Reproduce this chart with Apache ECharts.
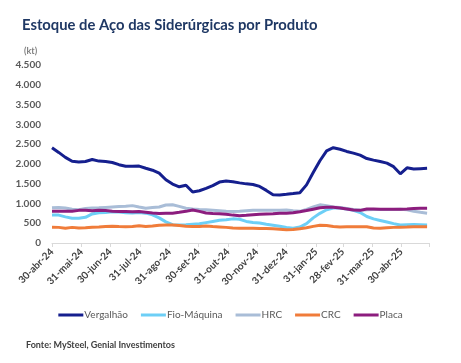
<!DOCTYPE html>
<html>
<head>
<meta charset="utf-8">
<script src="https://cdn.jsdelivr.net/npm/echarts@6/dist/echarts.min.js"></script>
<style>
html,body{margin:0;padding:0;background:#fff;}
#chart{width:461px;height:363px;}
</style>
</head>
<body>
<div id="chart"></div>
<script>
// ---- data ----
const dates = [
'2024-04-30','2024-05-07','2024-05-14','2024-05-21','2024-05-28','2024-06-04','2024-06-11','2024-06-18','2024-06-25',
'2024-07-02','2024-07-09','2024-07-16','2024-07-23','2024-07-30','2024-08-06','2024-08-13','2024-08-20','2024-08-27',
'2024-09-03','2024-09-10','2024-09-17','2024-09-24','2024-10-01','2024-10-08','2024-10-15','2024-10-22','2024-10-29',
'2024-11-05','2024-11-12','2024-11-19','2024-11-26','2024-12-03','2024-12-10','2024-12-17','2024-12-24','2024-12-31',
'2025-01-07','2025-01-14','2025-01-21','2025-01-28','2025-02-04','2025-02-11','2025-02-18','2025-02-25',
'2025-03-04','2025-03-11','2025-03-18','2025-03-25','2025-04-01','2025-04-08','2025-04-15','2025-04-22','2025-04-29',
'2025-05-06','2025-05-13','2025-05-20','2025-05-27'
];
const vergalhao = [2410,2290,2165,2065,2050,2060,2110,2070,2058,2035,1980,1940,1940,1945,1890,1840,1765,1600,1490,1420,
1460,1290,1320,1380,1450,1540,1565,1550,1520,1495,1480,1430,1330,1220,1215,1230,1250,1272,1470,1780,2080,2330,2410,2370,
2315,2272,2220,2135,2095,2060,2020,1930,1750,1900,1870,1880,1888];
const fioMaquina = [708,705,660,628,624,650,735,765,770,790,786,765,757,772,755,712,635,535,462,455,463,474,485,515,545,
575,590,610,600,545,520,505,475,450,425,390,375,405,490,635,750,840,885,885,860,825,770,670,610,570,530,490,455,462,468,462,455];
const hrc = [890,900,885,855,840,870,885,890,900,910,920,930,945,910,880,895,910,960,965,925,880,860,845,840,830,815,800,
795,800,815,826,826,826,826,828,832,815,800,850,910,965,940,910,895,870,845,830,840,845,845,845,850,855,840,805,775,755];
const crc = [400,395,375,395,380,385,400,405,415,425,415,410,420,435,415,430,450,455,455,440,425,415,420,430,415,405,395,
380,375,375,370,365,365,360,350,335,340,360,385,420,450,440,415,405,410,413,413,410,380,375,385,395,400,405,412,413,413];
const placa = [800,800,800,800,825,830,815,830,820,805,795,795,790,795,780,760,745,750,755,775,800,835,800,760,745,740,728,
705,690,700,715,728,735,740,755,755,765,790,820,855,890,905,905,885,860,835,825,860,860,855,855,855,855,858,870,876,876];
const tickDates = ['2024-04-30','2024-05-31','2024-06-30','2024-07-31','2024-08-31','2024-09-30','2024-10-31','2024-11-30',
'2024-12-31','2025-01-31','2025-02-28','2025-03-31','2025-04-30'];
const tickLabels = ['30-abr-24','31-mai-24','30-jun-24','31-jul-24','31-ago-24','30-set-24','31-out-24','30-nov-24',
'31-dez-24','31-jan-25','28-fev-25','31-mar-25','30-abr-25'];
const axisStart = '2024-04-30';
const axisEnd = '2025-05-29';
const seriesNames = ['Vergalhão','Fio-Máquina','HRC','CRC','Placa'];

// ---- helpers ----
function ts(s){const p=s.split('-').map(Number);return Date.UTC(p[0],p[1]-1,p[2])/86400000;}
const tickTs = tickDates.map(ts);
const labelMap = {};
tickTs.forEach((t,i)=>{labelMap[t]=tickLabels[i];});
const colors = ['#151F8E','#6DCFF6','#A9BDD7','#F07C3A','#8C1D7E'];
const allSeries = [vergalhao,fioMaquina,hrc,crc,placa];
const FONT = 'Lato';

const chart = echarts.init(document.getElementById('chart'), null, {renderer:'canvas'});
chart.setOption({
  animation:false,
  backgroundColor:'#fff',
  color:colors,
  title:[
    {text:'Estoque de Aço das Siderúrgicas por Produto',left:17,top:13,
     textStyle:{fontFamily:FONT,fontSize:14.8,fontWeight:'bold',color:'#1F3864'}},
    {text:'(kt)',left:19,top:42,textStyle:{fontFamily:FONT,fontSize:9,fontWeight:'bold',color:'#7F7F7F'}},
    {text:'Fonte: MySteel, Genial Investimentos',left:21,top:336,
     textStyle:{fontFamily:FONT,fontSize:9,fontWeight:'bold',color:'#404040'}}
  ],
  legend:{
    data:seriesNames,bottom:38,left:'center',icon:'rect',itemWidth:25,itemHeight:3,itemGap:13,
    textStyle:{fontFamily:FONT,fontSize:10,color:'#595959',padding:[0,0,0,-4]}
  },
  grid:{left:52,right:32,top:65,bottom:120,containLabel:false},
  xAxis:{
    type:'value',min:ts(axisStart),max:ts(axisEnd),
    axisLine:{show:true,lineStyle:{color:'#D9D9D9',width:1}},
    axisTick:{show:true,length:4,lineStyle:{color:'#D9D9D9'},customValues:tickTs.concat([ts(axisEnd)])},
    axisLabel:{customValues:tickTs,rotate:45,margin:7,fontFamily:FONT,fontSize:10,fontWeight:'bold',color:'#404040',
      formatter:function(v){return labelMap[v]||'';}},
    splitLine:{show:false}
  },
  yAxis:{
    type:'value',min:0,max:4500,interval:500,
    axisLine:{show:false},axisTick:{show:false},splitLine:{show:false},
    axisLabel:{margin:11,fontFamily:FONT,fontSize:10,fontWeight:'bold',color:'#595959',
      formatter:function(v){return v>=1000?Math.floor(v/1000)+'.'+String(v%1000).padStart(3,'0'):String(v);}}
  },
  series:seriesNames.map((n,i)=>({
    name:n,type:'line',showSymbol:false,symbol:'none',
    lineStyle:{width:3,color:colors[i]},itemStyle:{color:colors[i]},
    data:dates.map((d,j)=>[ts(d),allSeries[i][j]])
  }))
});
</script>
</body>
</html>
